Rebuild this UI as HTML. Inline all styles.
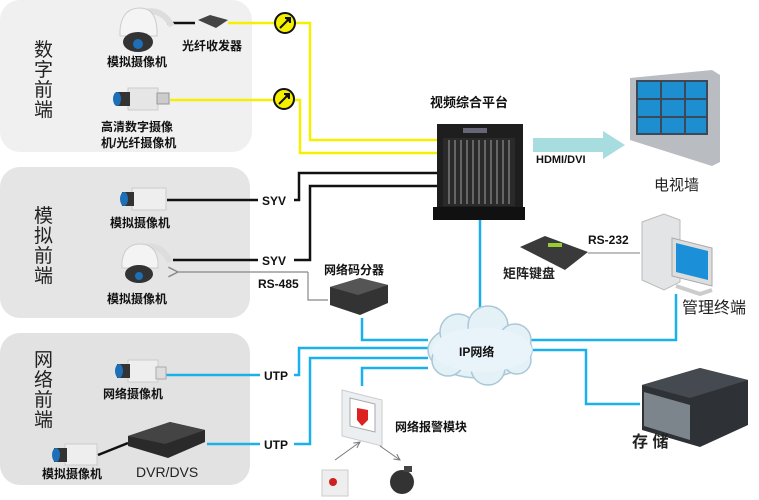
<!DOCTYPE html>
<html><head><meta charset="utf-8"><style>
html,body{margin:0;padding:0;background:#fff}
svg{display:block}
text{font-family:"Liberation Sans","Noto Sans CJK SC",sans-serif;font-weight:bold;fill:#111}
.t{font-size:12px}
.v{font-size:19px;font-weight:normal;fill:#222}
</style></head><body>
<svg width="759" height="500" viewBox="0 0 759 500" xmlns="http://www.w3.org/2000/svg">
<defs>
<marker id="ga" markerWidth="10" markerHeight="10" refX="1" refY="5" orient="auto"><path d="M9,1 L1,5 L9,9" fill="none" stroke="#888" stroke-width="1.2"/></marker>
<marker id="sa" markerWidth="8" markerHeight="8" refX="7" refY="4" orient="auto"><path d="M1,1 L7,4 L1,7" fill="none" stroke="#777" stroke-width="1"/></marker>
</defs>
<rect x="0" y="0" width="252" height="152" rx="20" fill="#f0f0f0"/>
<rect x="0" y="167" width="250" height="151" rx="20" fill="#e5e5e5"/>
<rect x="0" y="333" width="250" height="152" rx="20" fill="#e2e2e2"/>
<text class="v" x="34" y="56">数</text><text class="v" x="34" y="76">字</text><text class="v" x="34" y="96">前</text><text class="v" x="34" y="116">端</text>
<text class="v" x="34" y="222">模</text><text class="v" x="34" y="242">拟</text><text class="v" x="34" y="262">前</text><text class="v" x="34" y="282">端</text>
<text class="v" x="34" y="366">网</text><text class="v" x="34" y="386">络</text><text class="v" x="34" y="406">前</text><text class="v" x="34" y="426">端</text>

<g fill="none" stroke="#f5f000" stroke-width="2.5">
<path d="M228,23 H310 V140 H440"/>
<path d="M170,100 H300 V153 H440"/>
</g>
<g stroke="#111" stroke-width="2"><circle cx="285" cy="23" r="10" fill="#f5f000"/><circle cx="284" cy="99" r="10" fill="#f5f000"/>
<path d="M280,28 L290,18 M285,18 H290 V23 M279,104 L289,94 M284,94 H289 V99"/></g>
<g fill="none" stroke="#111" stroke-width="2.5">
<path d="M167,23 H195"/>
<path d="M167,200 H258 M294,200 H299 V173 H440"/>
<path d="M173,260 H258 M294,260 H310 V186 H440"/>
<path d="M98,455 L128,443"/>
</g>
<text class="t" x="262" y="205">SYV</text>
<text class="t" x="262" y="265">SYV</text>
<path d="M308,272 H178" stroke="#888" stroke-width="1.2" fill="none" marker-end="url(#ga)"/>
<path d="M308,272 V300 H328" stroke="#888" stroke-width="1.2" fill="none"/>
<text class="t" x="258" y="288">RS-485</text>

<g fill="none" stroke="#1ab0ea" stroke-width="2.5">
<path d="M480,220 V320"/>
<path d="M362,318 V340 H428"/>
<path d="M165,375 H260 M294,375 H299 V348 H428"/>
<path d="M207,444 H260 M294,444 H310 V358 H428"/>
<path d="M362,386 V368 H428"/>
<path d="M525,340 H676 V294"/>
<path d="M533,350 H586 V404 H640"/>
</g>
<text class="t" x="264" y="380">UTP</text>
<text class="t" x="264" y="449">UTP</text>

<g fill="#e4f2f8" stroke="#aac8d6" stroke-width="1.5">
<ellipse cx="480" cy="350" rx="52" ry="28"/>
<circle cx="458" cy="332" r="18"/><circle cx="488" cy="326" r="20"/><circle cx="515" cy="340" r="16"/>
<circle cx="448" cy="360" r="16"/><circle cx="488" cy="368" r="17"/><circle cx="517" cy="360" r="14"/>
</g>
<ellipse cx="482" cy="350" rx="50" ry="22" fill="#e8f4fa"/>
<text class="t" x="459" y="356">IP网络</text>

<rect x="437" y="124" width="86" height="96" fill="#1e1e1e"/>
<rect x="443" y="138" width="72" height="68" fill="#2a2a2a"/>
<g stroke="#666" stroke-width="2"><path d="M449,140V204M455,140V204M461,140V204M467,140V204M473,140V204M479,140V204M485,140V204M491,140V204M497,140V204M503,140V204M509,140V204"/></g>
<rect x="463" y="128" width="24" height="5" fill="#667"/>
<rect x="433" y="207" width="92" height="13" fill="#111"/>
<text class="t" x="430" y="107" style="font-size:13px">视频综合平台</text>
<path d="M533,138 H603 V131 L625,145 L603,159 V152 H533 Z" fill="#a8dde0"/>
<text class="t" x="536" y="163" style="font-size:11px">HDMI/DVI</text>
<path d="M630,78 L712,70 L720,75 V162 L712,166 L630,140 Z" fill="#b9bcc0"/>
<rect x="636" y="80" width="72" height="55" fill="#3a4a5a"/>
<g fill="#1d8fd0">
<rect x="638" y="82" width="22" height="16"/><rect x="662" y="82" width="22" height="16"/><rect x="686" y="82" width="20" height="16"/>
<rect x="638" y="100" width="22" height="16"/><rect x="662" y="100" width="22" height="16"/><rect x="686" y="100" width="20" height="16"/>
<rect x="638" y="118" width="22" height="15"/><rect x="662" y="118" width="22" height="15"/><rect x="686" y="118" width="20" height="15"/>
</g>
<text class="v" x="654" y="190" style="font-size:15px">电视墙</text>

<path d="M520,247 L545,236 L588,252 L565,270 Z" fill="#3a3a3a"/>
<rect x="548" y="243" width="14" height="4" fill="#9c3"/>
<path d="M588,253 H640" stroke="#999" stroke-width="1.2"/>
<text class="t" x="588" y="244">RS-232</text>
<text class="v" x="503" y="278" style="font-size:13px;font-weight:bold">矩阵键盘</text>
<path d="M642,222 L664,214 L680,220 V282 L664,290 L642,280 Z" fill="#e2e4e6" stroke="#bbb"/>
<path d="M672,238 L712,248 V286 L672,276 Z" fill="#ddd" stroke="#aaa"/>
<path d="M676,243 L708,251 V280 L676,272 Z" fill="#1b8fd8"/>
<path d="M676,286 L700,294 L712,290" stroke="#ccc" stroke-width="4" fill="none"/>
<text class="v" x="682" y="313" style="font-size:16px">管理终端</text>

<path d="M642,385 L700,368 L748,380 V425 L700,447 L642,430 Z" fill="#2e3236"/>
<path d="M642,385 L700,368 L748,380 L690,398 Z" fill="#454a50"/>
<path d="M644,392 L690,405 V440 L644,426 Z" fill="#7c858c"/>
<text class="v" x="632" y="447" style="font-size:16px;font-weight:bold">存 储</text>

<path d="M330,287 L360,278 L388,285 V303 L360,315 L330,305 Z" fill="#333"/>
<path d="M330,287 L360,278 L388,285 L358,295 Z" fill="#555"/>
<text class="t" x="324" y="274">网络码分器</text>

<path d="M342,390 L382,400 V446 L342,436 Z" fill="#eceff1" stroke="#ccc"/>
<path d="M350,398 L375,404 V432 L350,426 Z" fill="#fff" stroke="#aaa"/>
<path d="M357,408 L368,410 V420 L362,426 L357,420 Z" fill="#d22"/>
<text class="t" x="395" y="431">网络报警模块</text>
<path d="M335,460 L360,442" stroke="#777" stroke-width="1" marker-end="url(#sa)"/>
<path d="M380,446 L400,460" stroke="#777" stroke-width="1" marker-end="url(#sa)"/>
<rect x="322" y="470" width="26" height="26" fill="#eee" stroke="#ccc"/>
<circle cx="333" cy="482" r="4" fill="#c22"/>
<ellipse cx="402" cy="482" rx="12" ry="12" fill="#333"/>
<rect x="404" y="466" width="8" height="6" fill="#444"/>

<path d="M145,12 Q162,8 172,26" stroke="#ddd" stroke-width="6" fill="none"/>
<path d="M120,30 Q122,8 140,8 Q156,8 157,30 V36 H120 Z" fill="#f4f4f4" stroke="#ccc"/>
<ellipse cx="138" cy="42" rx="15" ry="10" fill="#333"/><circle cx="138" cy="44" r="5" fill="#1d6fb8"/>
<text class="t" x="107" y="66">模拟摄像机</text>
<path d="M198,20 L210,15 L228,20 L216,28 Z" fill="#444"/>
<text class="t" x="182" y="50">光纤收发器</text>
<rect x="128" y="88" width="30" height="22" fill="#e6e6e6" stroke="#ccc"/>
<rect x="116" y="92" width="14" height="14" fill="#333"/><ellipse cx="117" cy="99" rx="4" ry="7" fill="#1d6fb8"/>
<rect x="157" y="93" width="12" height="11" fill="#ccc" stroke="#999"/>
<text class="t" x="101" y="131">高清数字摄像</text>
<text class="t" x="101" y="147">机/光纤摄像机</text>
<rect x="132" y="188" width="34" height="22" fill="#eee" stroke="#ccc"/>
<rect x="122" y="192" width="12" height="14" fill="#333"/><ellipse cx="124" cy="199" rx="4" ry="7" fill="#1d6fb8"/>
<text class="t" x="110" y="227">模拟摄像机</text>
<path d="M145,247 Q162,244 170,262" stroke="#ddd" stroke-width="6" fill="none"/>
<path d="M122,262 Q124,244 140,244 Q156,244 158,262 V268 H122 Z" fill="#f4f4f4" stroke="#ccc"/>
<ellipse cx="139" cy="274" rx="14" ry="9" fill="#333"/><circle cx="139" cy="276" r="4" fill="#1d6fb8"/>
<text class="t" x="107" y="303">模拟摄像机</text>
<rect x="128" y="360" width="30" height="22" fill="#eee" stroke="#ccc"/>
<rect x="117" y="364" width="13" height="14" fill="#333"/><ellipse cx="119" cy="371" rx="4" ry="7" fill="#1d6fb8"/>
<rect x="156" y="367" width="10" height="12" fill="#ddd" stroke="#aaa"/>
<text class="t" x="103" y="398">网络摄像机</text>
<path d="M128,436 L170,422 L205,430 V442 L168,458 L128,446 Z" fill="#2a2a2a"/>
<path d="M128,436 L170,422 L205,430 L165,444 Z" fill="#444"/>
<text class="v" x="136" y="477" style="font-size:14px">DVR/DVS</text>
<rect x="65" y="444" width="32" height="21" fill="#eee" stroke="#ccc"/>
<rect x="54" y="448" width="13" height="14" fill="#333"/><ellipse cx="56" cy="455" rx="4" ry="7" fill="#1d6fb8"/>
<text class="t" x="42" y="478">模拟摄像机</text>
</svg>
</body></html>
